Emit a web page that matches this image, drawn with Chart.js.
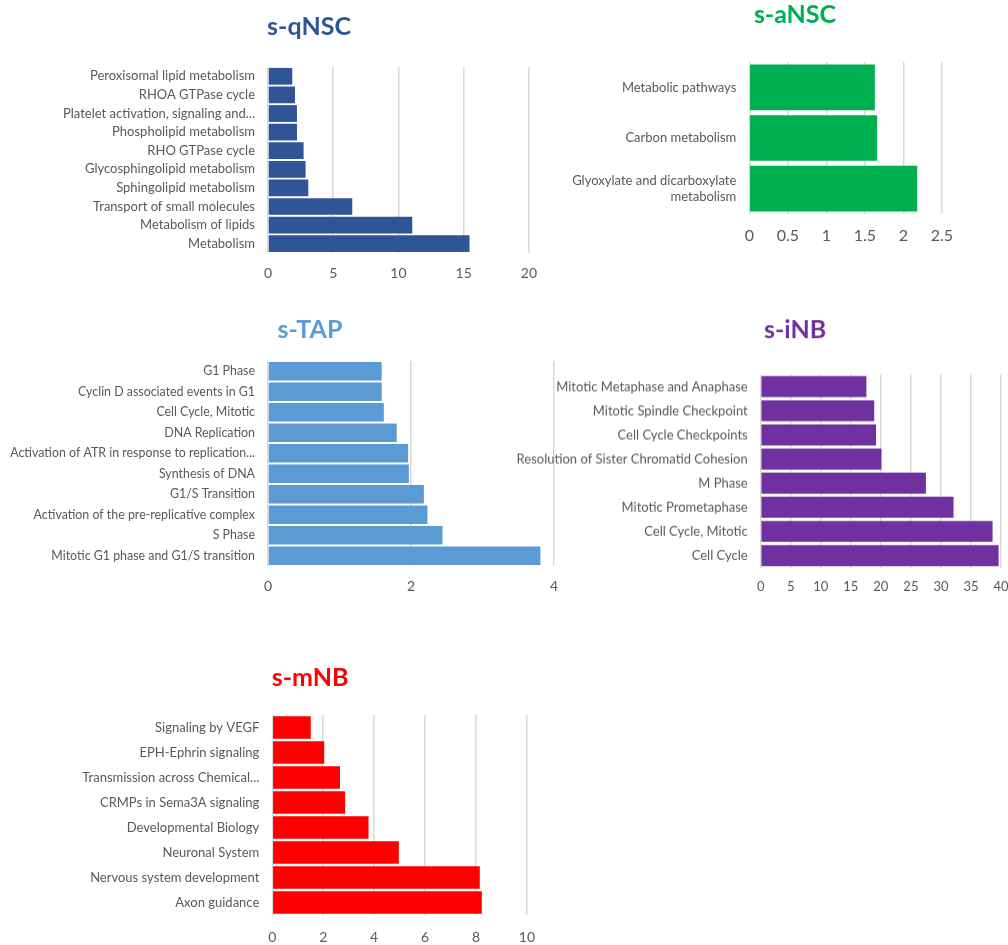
<!DOCTYPE html>
<html>
<head>
<meta charset="utf-8">
<script src="https://cdn.jsdelivr.net/npm/chart.js@4"></script>
<style>
  html, body { margin: 0; padding: 0; background: #fff; overflow: hidden; }
  body { width: 1008px; height: 945px; position: relative; }
  .box { position: absolute; }
</style>
</head>
<body>
<div class="box" id="b1"><canvas id="qnsc"></canvas></div>
<div class="box" id="b2"><canvas id="ansc"></canvas></div>
<div class="box" id="b3"><canvas id="tap"></canvas></div>
<div class="box" id="b4"><canvas id="inb"></canvas></div>
<div class="box" id="b5"><canvas id="mnb"></canvas></div>
<script>
// s-qNSC
const qnscLabels = ["Peroxisomal lipid metabolism", "RHOA GTPase cycle", "Platelet activation, signaling and...",
  "Phospholipid metabolism", "RHO GTPase cycle", "Glycosphingolipid metabolism", "Sphingolipid metabolism",
  "Transport of small molecules", "Metabolism of lipids", "Metabolism"];
const qnscValues = [1.86, 2.07, 2.22, 2.22, 2.73, 2.88, 3.09, 6.46, 11.06, 15.45];
const qnscTicks = [0, 20, 5];

// s-aNSC
const anscLabels = ["Metabolic pathways", "Carbon metabolism", ["Glyoxylate and dicarboxylate", "metabolism"]];
const anscValues = [1.63, 1.66, 2.18];
const anscTicks = [0, 2.5, 0.5];

// s-TAP
const tapLabels = ["G1 Phase", "Cyclin D associated events in G1", "Cell Cycle, Mitotic", "DNA Replication",
  "Activation of ATR in response to replication...", "Synthesis of DNA", "G1/S Transition",
  "Activation of the pre-replicative complex", "S Phase", "Mitotic G1 phase and G1/S transition"];
const tapValues = [1.59, 1.59, 1.62, 1.80, 1.96, 1.97, 2.18, 2.23, 2.44, 3.81];
const tapTicks = [0, 4, 2];

// s-iNB
const inbLabels = ["Mitotic Metaphase and Anaphase", "Mitotic Spindle Checkpoint", "Cell Cycle Checkpoints",
  "Resolution of Sister Chromatid Cohesion", "M Phase", "Mitotic Prometaphase", "Cell Cycle, Mitotic", "Cell Cycle"];
const inbValues = [17.6, 18.9, 19.2, 20.1, 27.5, 32.1, 38.6, 39.6];
const inbTicks = [0, 40, 5];

// s-mNB
const mnbLabels = ["Signaling by VEGF", "EPH-Ephrin signaling", "Transmission across Chemical...",
  "CRMPs in Sema3A signaling", "Developmental Biology", "Neuronal System", "Nervous system development", "Axon guidance"];
const mnbValues = [1.51, 2.04, 2.66, 2.86, 3.78, 4.97, 8.15, 8.23];
const mnbTicks = [0, 10, 2];

const FONT = "Lato, 'Open Sans', sans-serif";
const GREY = "#595959";

// title drawn at a fixed spot, not centred on the canvas
const panelTitle = {
  id: "panelTitle",
  afterDraw(chart, args, opts) {
    const ctx = chart.ctx;
    ctx.save();
    ctx.font = "bold 25px " + FONT;
    ctx.fillStyle = opts.color;
    ctx.textAlign = "center";
    ctx.textBaseline = "middle";
    ctx.fillText(opts.text, opts.x, opts.y);
    ctx.restore();
  }
};

// x0..x1 / y0..y1 = plot area on the page, L/T = canvas corner, tx/ty = title centre
function barChart(id, boxId, o) {
  const L = o.L, T = o.T, pr = 20, xh = 35;
  const W = o.x1 - L + pr;
  const H = o.y1 - T + xh;
  const yw = o.x0 - L;
  const box = document.getElementById(boxId);
  box.style.left = L + "px";
  box.style.top = T + "px";
  box.style.width = W + "px";
  box.style.height = H + "px";

  return new Chart(document.getElementById(id), {
    type: "bar",
    data: {
      labels: o.labels,
      datasets: [{
        data: o.values,
        backgroundColor: o.color,
        borderWidth: 0,
        barPercentage: 1,
        categoryPercentage: o.cat || 0.9
      }]
    },
    plugins: [panelTitle],
    options: {
      indexAxis: "y",
      responsive: true,
      maintainAspectRatio: false,
      animation: false,
      layout: { padding: { left: 0, right: pr, top: o.y0 - T, bottom: 0 } },
      plugins: {
        legend: { display: false },
        tooltip: { enabled: false },
        panelTitle: { text: o.title, color: o.color, x: o.tx - L, y: o.ty - T }
      },
      scales: {
        x: {
          min: o.ticks[0],
          max: o.ticks[1],
          ticks: { stepSize: o.ticks[2], color: GREY, font: { family: FONT, size: o.tickSize || 14 },
            padding: o.xpad, maxRotation: 0, callback: v => String(v) },
          grid: { color: "#d9d9d9", lineWidth: 1.5, drawTicks: false },
          border: { display: false },
          afterFit: s => { s.height = xh; }
        },
        y: {
          ticks: { color: GREY, font: { family: FONT, size: o.labelSize || 13 }, padding: 13, autoSkip: false },
          grid: { display: false, drawTicks: false },
          border: { display: false },
          afterFit: s => { s.width = yw; }
        }
      }
    }
  });
}

barChart("qnsc", "b1", { title: "s-qNSC", color: "#2F5597", labels: qnscLabels, values: qnscValues, ticks: qnscTicks,
  L: 40, T: 0, x0: 268, x1: 529, y0: 67, y1: 253, tx: 309, ty: 27, xpad: 12 });
barChart("ansc", "b2", { title: "s-aNSC", color: "#00B050", labels: anscLabels, values: anscValues, ticks: anscTicks,
  L: 550, T: 0, x0: 749.3, x1: 945, y0: 62, y1: 214, tx: 795, ty: 15, xpad: 12, tickSize: 16 });
barChart("tap", "b3", { title: "s-TAP", color: "#5B9BD5", labels: tapLabels, values: tapValues, ticks: tapTicks,
  L: 0, T: 290, x0: 268, x1: 554, y0: 361, y1: 566, tx: 310, ty: 330, xpad: 12, labelSize: 12.4 });
barChart("inb", "b4", { title: "s-iNB", color: "#7030A0", labels: inbLabels, values: inbValues, ticks: inbTicks,
  L: 505, T: 290, x0: 760.7, x1: 1001, y0: 374.3, y1: 566.7, tx: 795, ty: 330, xpad: 11, tickSize: 13, cat: 0.87 });
barChart("mnb", "b5", { title: "s-mNB", color: "#FF0000", labels: mnbLabels, values: mnbValues, ticks: mnbTicks,
  L: 60, T: 640, x0: 272.3, x1: 529, y0: 715, y1: 915, tx: 310, ty: 678, xpad: 14 });
</script>
</body>
</html>
